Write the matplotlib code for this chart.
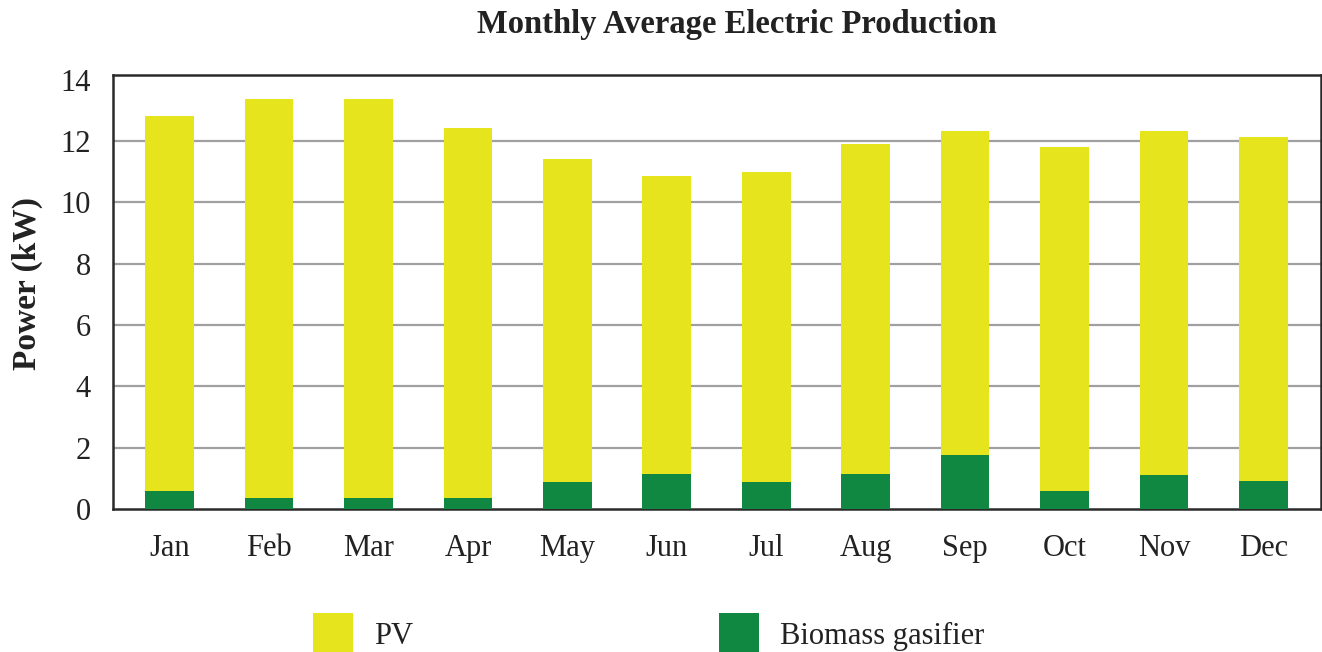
import matplotlib
matplotlib.use("Agg")
import matplotlib.pyplot as plt
from matplotlib.patches import Patch
import numpy as np

months = ["Jan", "Feb", "Mar", "Apr", "May", "Jun", "Jul", "Aug", "Sep", "Oct", "Nov", "Dec"]
biomass = [0.59, 0.36, 0.36, 0.36, 0.88, 1.14, 0.88, 1.14, 1.76, 0.59, 1.11, 0.91]
total = [12.81, 13.37, 13.37, 12.42, 11.41, 10.86, 10.99, 11.90, 12.32, 11.80, 12.32, 12.13]
pv = [t - b for t, b in zip(total, biomass)]
yticks = [0, 2, 4, 6, 8, 10, 12, 14]

YELLOW = "#E5E41D"
GREEN = "#118841"

plt.rcParams['font.family'] = ['Liberation Serif', 'DejaVu Serif']

fig = plt.figure(figsize=(13.22, 6.52), dpi=100)
ax = fig.add_axes([113/1322, 143/652, (1321-113)/1322, (509-75)/652])

x = np.arange(len(months))
ax.bar(x, biomass, width=0.49, color=GREEN, zorder=3)
ax.bar(x, pv, width=0.49, bottom=biomass, color=YELLOW, zorder=3)

ax.set_xlim(-0.57, 11.58)
ax.set_ylim(0, 14.15)
ax.set_yticks(yticks)
ax.set_yticklabels([str(v) for v in yticks], fontsize=22, color="#222222")
ax.set_xticks(x)
ax.set_xticklabels(months, fontsize=22, color="#222222")
ax.tick_params(axis='both', length=0)
ax.tick_params(axis='y', pad=16)
ax.tick_params(axis='x', pad=18)

ax.set_axisbelow(True)
ax.yaxis.grid(True, color="#a0a0a0", linewidth=1.6)
gl = ax.yaxis.get_gridlines()
gl[0].set_visible(False)
gl[-1].set_visible(False)
for s in ax.spines.values():
    s.set_color("#2a2a2a")
    s.set_linewidth(1.8)

ax.set_ylabel("Power (kW)", fontsize=24, fontweight='bold', color="#222222")
ax.yaxis.set_label_coords(-0.058, 0.5 + 8/434)

fig.text(737/1322, 1 - 24/652, "Monthly Average Electric Production", fontsize=23.5,
         fontweight='bold', ha='center', va='center', color="#222222")

handles = [Patch(facecolor=YELLOW, edgecolor='none', label="PV"),
           Patch(facecolor=GREEN, edgecolor='none', label="Biomass gasifier")]
fig.legend(handles=handles, loc='upper left', bbox_to_anchor=(313/1322, 1 - 613/652),
           ncol=2, frameon=False, fontsize=22, handlelength=1.3, handleheight=1.75,
           handletextpad=0.7, columnspacing=10.0, borderpad=0, borderaxespad=0,
           labelcolor="#222222")

fig.savefig("out.png", dpi=100)
